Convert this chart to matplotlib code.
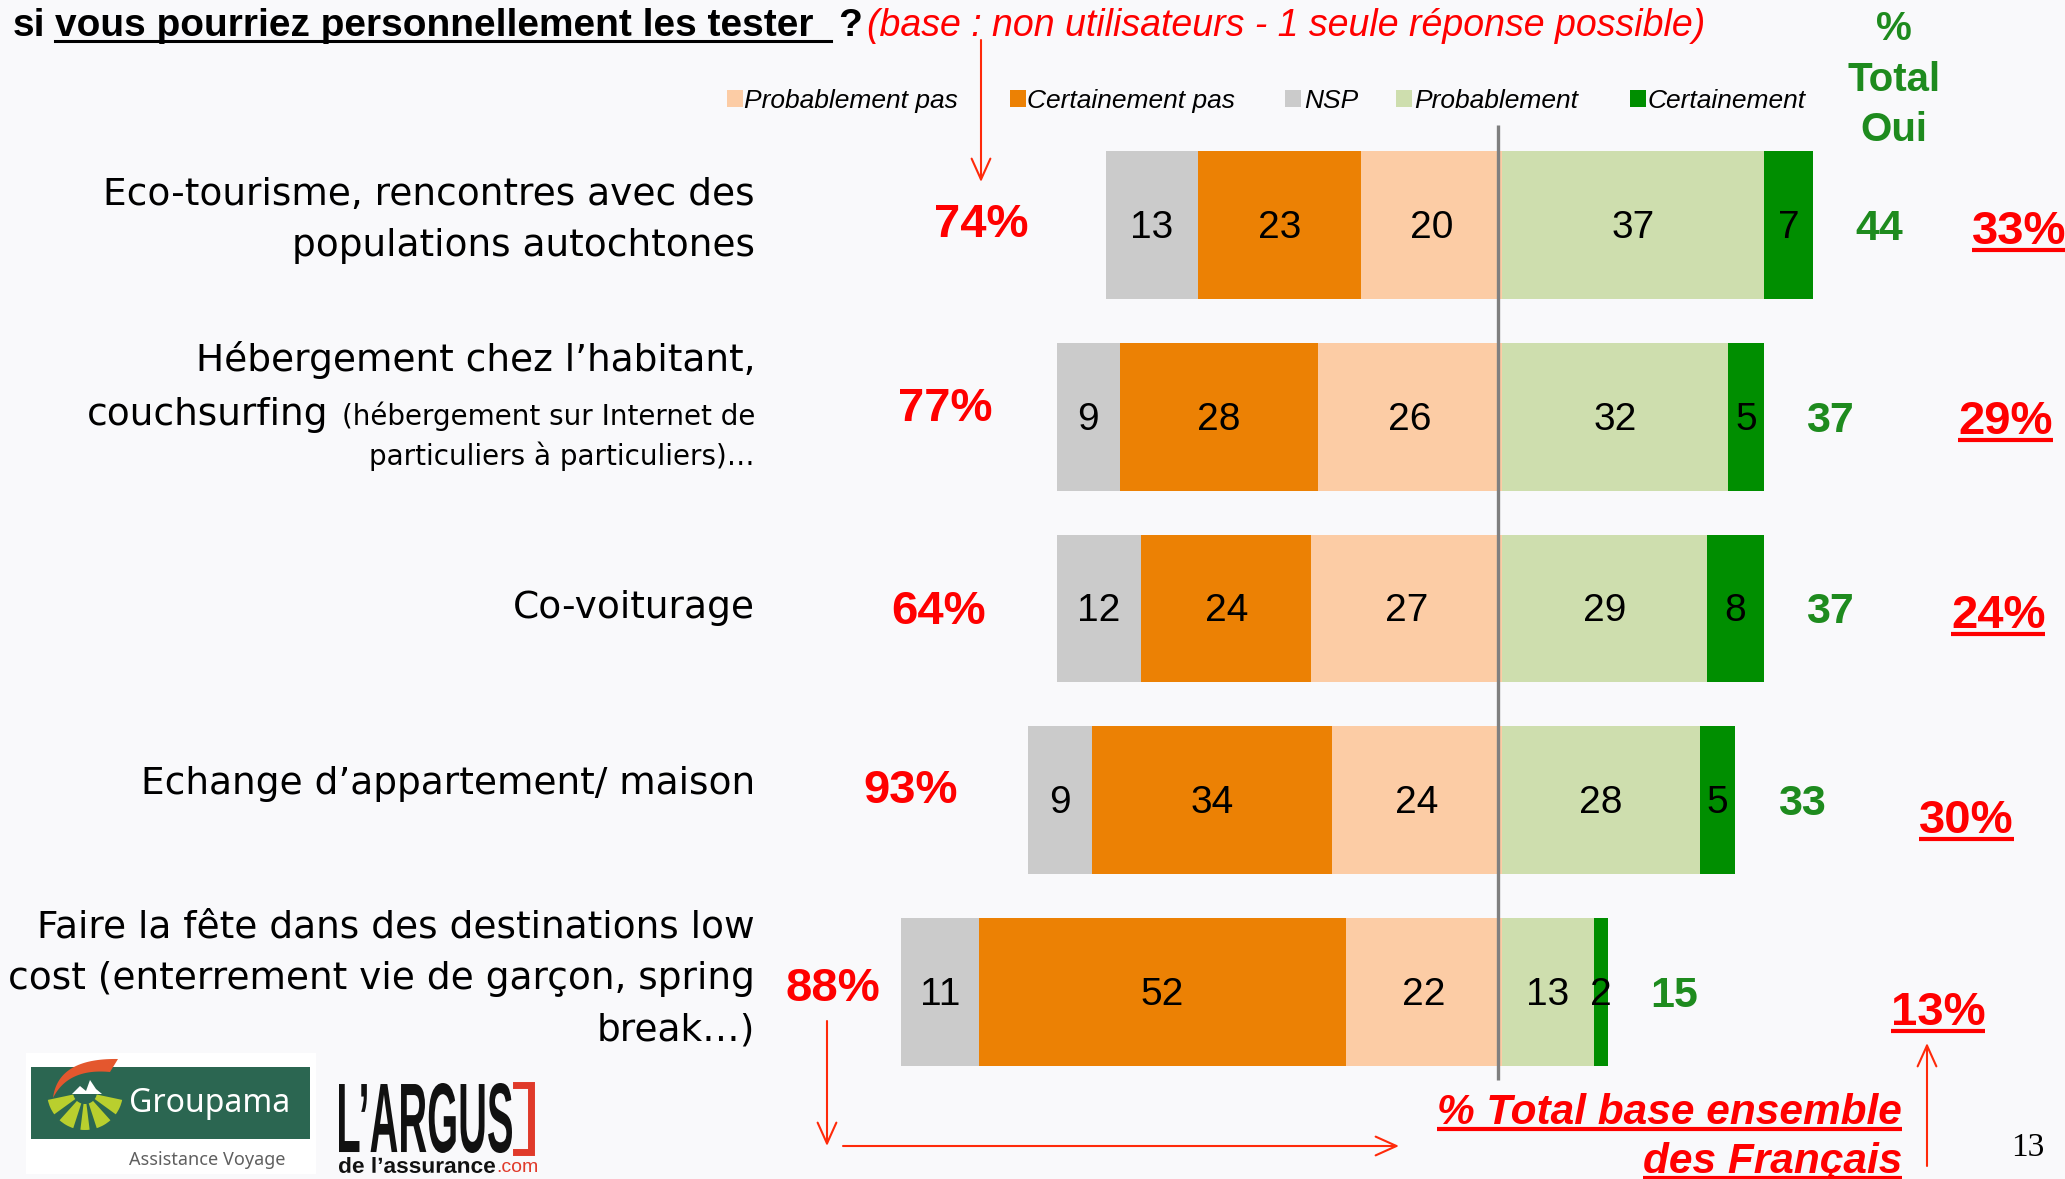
"""
Intention de tester les nouvelles formes de voyage (barres divergentes)
"""
import numpy as np
import matplotlib
matplotlib.use("Agg")  # pas d'affichage
import matplotlib.pyplot as plt
from matplotlib.patches import Rectangle, Wedge, PathPatch, Polygon
from matplotlib.textpath import TextPath
from matplotlib.font_manager import FontProperties
from matplotlib.transforms import Affine2D

# --- données ---
nsp = np.array([13, 9, 12, 9, 11])
certainement_pas = np.array([23, 28, 24, 34, 52])
probablement_pas = np.array([20, 26, 27, 24, 22])
probablement = np.array([37, 32, 29, 28, 13])
certainement = np.array([7, 5, 8, 5, 2])
total_oui = [44, 37, 37, 33, 15]
pct_non_utilisateurs = ["74%", "77%", "64%", "93%", "88%"]
pct_ensemble = ["33%", "29%", "24%", "30%", "13%"]
legend_labels = ["Probablement pas", "Certainement pas", "NSP", "Probablement", "Certainement"]

# --- mise en page (pixels de l'image finale) ---
W, H = 2065, 1179
X0, UNIT = 1502, 7.07      # position du zéro, pixels par point de %
Y0, ROW = 225, 191.75      # centre de la 1re barre, pas entre barres
BG = "#F9F9FB"
RED = "#FF0000"
ARROW_RED = "#FF2A0A"
GREEN_TXT = "#1E8B1E"
COLORS = {
    "nsp": "#CBCBCB",
    "cpas": "#EC8104",
    "ppas": "#FCCCA5",
    "p": "#CEDEAE",
    "c": "#008E00",
}
NARROW = ["Liberation Sans"]
LABEL_FONT = ["DejaVu Sans"]

fig = plt.figure(figsize=(W / 100, H / 100), dpi=100, facecolor=BG)

# axe des barres : x en %, y en rangs
ax = fig.add_axes([0, 0, 1, 1])
ax.set_xlim(-X0 / UNIT, (W - X0) / UNIT)
ax.set_ylim((H - Y0) / ROW, -Y0 / ROW)
ax.axis("off")

# axe de superposition en pixels (y vers le bas)
ov = fig.add_axes([0, 0, 1, 1], zorder=5)
ov.set_xlim(0, W)
ov.set_ylim(H, 0)
ov.axis("off")

renderer = fig.canvas.get_renderer()


def underline(t, color, lw=2.5, off=6):
    """Souligne un texte placé avec va='baseline'"""
    bb = t.get_window_extent(renderer)
    base = t.get_transform().transform(t.get_position())[1]
    yb = H - base + off
    ov.plot([bb.x0, bb.x1], [yb, yb], color=color, lw=lw, solid_capstyle="butt")


def fit_text(s, x0, y0, x1, y1, color, family=NARROW, weight="bold"):
    """Texte vectoriel étiré dans une boîte (logos)"""
    tp = TextPath((0, 0), s, size=100, prop=FontProperties(family=family, weight=weight))
    bb = tp.get_extents()
    tr = (Affine2D().translate(-bb.x0, -bb.y0)
          .scale((x1 - x0) / bb.width, -(y1 - y0) / bb.height)
          .translate(x0, y1))
    ov.add_patch(PathPatch(tr.transform_path(tp), color=color, lw=0))


# --- barres ---
y = np.arange(len(nsp))
h = 0.77
segments = [
    (nsp, -(nsp + certainement_pas + probablement_pas), COLORS["nsp"]),
    (certainement_pas, -(certainement_pas + probablement_pas), COLORS["cpas"]),
    (probablement_pas, -probablement_pas, COLORS["ppas"]),
    (probablement, np.zeros_like(probablement), COLORS["p"]),
    (certainement, probablement, COLORS["c"]),
]
for vals, lefts, col in segments:
    ax.barh(y, vals, left=lefts, height=h, color=col, edgecolor="none", zorder=2)
    for yi, v, l in zip(y, vals, lefts):
        ax.text(l + v / 2, yi + 0.015, str(v), ha="center", va="center",
                fontsize=28, family=NARROW, color="black", zorder=4)

# ligne du zéro
ax.vlines(-0.6, -0.52, 4.46, color="#7F7F7F", lw=2.4, zorder=3)

# totaux oui (vert)
for yi, tot, p, c in zip(y, total_oui, probablement, certainement):
    ax.text(p + c + 6, yi + 0.02, str(tot), ha="left", va="center",
            fontsize=31, family=NARROW, weight="bold", color=GREEN_TXT)

# % non utilisateurs (à gauche des barres)
gap_left = [11, 9, 10, 10, 3]
dy_left = [0.0, -0.04, 0.02, -0.05, -0.015]
left_ext = nsp + certainement_pas + probablement_pas
for yi, lab, ext, g, d in zip(y, pct_non_utilisateurs, left_ext, gap_left, dy_left):
    ax.text(-ext - g, yi + d, lab, ha="right", va="center",
            fontsize=34, family=NARROW, weight="bold", color=RED)

# % base ensemble (à droite, souligné)
x_right = [66.5, 64.5, 63.5, 59, 55]
dy_right = [0.10, 0.09, 0.10, 0.17, 0.17]
for yi, lab, xr, d in zip(y, pct_ensemble, x_right, dy_right):
    t = ax.text(xr, yi + d, lab, ha="left", va="baseline",
                fontsize=34, family=NARROW, weight="bold", color=RED)
    underline(t, RED, lw=3, off=6)

# --- libellés des items ---
LX = 755
big, small = 27, 20
lines = [
    ("Eco-tourisme, rencontres avec des", 195, big),
    ("populations autochtones", 246, big),
    ("Hébergement chez l’habitant,", 360, big),
    ("particuliers à particuliers)…", 456, small),
    ("Co-voiturage", 608, big),
    ("Echange d’appartement/ maison", 784, big),
    ("Faire la fête dans des destinations low", 927, big),
    ("cost (enterrement vie de garçon, spring", 979, big),
    ("break…)", 1030, big),
]
for txt, yy, fs in lines:
    ov.text(LX, yy, txt, ha="right", va="center", fontsize=fs, family=LABEL_FONT)
# ligne mixte : gros + petit texte
ts = ov.text(LX, 425, "(hébergement sur Internet de", ha="right", va="baseline",
             fontsize=small, family=LABEL_FONT)
w_small = ts.get_window_extent(renderer).width
ov.text(LX - w_small - 13, 425, "couchsurfing", ha="right", va="baseline",
        fontsize=big, family=LABEL_FONT)

# --- titre (dernière ligne visible) ---
TY = 36
ov.text(13, TY, "si", va="baseline", fontsize=28, weight="bold", family=NARROW)
ov.text(55, TY, "vous pourriez personnellement les tester", va="baseline",
        fontsize=28, weight="bold", family=NARROW)
ov.plot([55, 831], [TY + 5, TY + 5], color="black", lw=2.2)
ov.text(838, TY, "?", va="baseline", fontsize=28, weight="bold", family=NARROW)
ov.text(867, TY, "(base : non utilisateurs - 1 seule réponse possible)", va="baseline",
        fontsize=27, style="italic", color=RED, family=NARROW)

# --- légende ---
leg_cols = [COLORS["ppas"], COLORS["cpas"], COLORS["nsp"], COLORS["p"], COLORS["c"]]
leg_sq = [727, 1010, 1285, 1396, 1630]
leg_tx = [744, 1027, 1304, 1414, 1648]
for lab, col, xs, xt in zip(legend_labels, leg_cols, leg_sq, leg_tx):
    ov.add_patch(Rectangle((xs, 90), 16, 17, color=col, lw=0))
    ov.text(xt, 101, lab, ha="left", va="center", fontsize=19, style="italic", family=NARROW)

# en-tête colonne
for txt, yy in [("%", 29), ("Total", 80), ("Oui", 130)]:
    ov.text(1894, yy, txt, ha="center", va="center", fontsize=29,
            weight="bold", family=NARROW, color=GREEN_TXT)

# --- flèches ---
arrow_kw = dict(arrowstyle="->,head_length=1.0,head_width=0.45", color=ARROW_RED,
                lw=1.5, mutation_scale=15, shrinkA=0, shrinkB=0)
for start, end in [((981, 40), (981, 182)), ((827, 1021), (827, 1146)),
                   ((843, 1146), (1399, 1146)), ((1927, 1166), (1927, 1043))]:
    ov.annotate("", xy=end, xytext=start, arrowprops=arrow_kw)

for txt, yy in [("% Total base ensemble", 1124), ("des Français", 1173)]:
    t = ov.text(1902, yy, txt, ha="right", va="baseline", fontsize=30.5, weight="bold",
                style="italic", family=NARROW, color=RED)
    underline(t, RED, lw=3, off=5)

# numéro de page
ov.text(2028, 1148, "13", ha="center", va="center", fontsize=24, family=["Liberation Serif"])

# --- logos ---
ov.add_patch(Rectangle((26, 1053), 290, 121, color="white", lw=0))
ov.add_patch(Rectangle((31, 1067), 279, 72, color="#2B6651", lw=0))
# virgule orange (croissant)
tt = np.linspace(0, 1, 40)
outer_x = (1 - tt) ** 2 * 53 + 2 * (1 - tt) * tt * 58 + tt ** 2 * 118
outer_y = (1 - tt) ** 2 * 1098 + 2 * (1 - tt) * tt * 1058 + tt ** 2 * 1059
inner_x = (1 - tt) ** 2 * 53 + 2 * (1 - tt) * tt * 68 + tt ** 2 * 110
inner_y = (1 - tt) ** 2 * 1098 + 2 * (1 - tt) * tt * 1068 + tt ** 2 * 1072
ov.add_patch(Polygon(np.column_stack([np.r_[outer_x, inner_x[::-1]],
                                      np.r_[outer_y, inner_y[::-1]]]),
                     closed=True, color="#E4572E", lw=0))
for a1, a2 in [(12, 36), (48, 72), (83, 97), (108, 132), (144, 168)]:
    ov.add_patch(Wedge((85, 1092), 38, a1, a2, width=26, color="#B9CF2E", lw=0))
ov.add_patch(Polygon([(72, 1094), (80, 1086), (86, 1091), (90, 1080), (96, 1089), (102, 1094)],
                     closed=True, color="white", lw=0))
ov.text(210, 1103, "Groupama", ha="center", va="center", fontsize=23,
        color="white", family=["Noto Sans"])
ov.text(207, 1160, "Assistance Voyage", ha="center", va="center", fontsize=13,
        color="#5F5F5F", weight="bold", family=["Noto Sans"])

fit_text("L’ARGUS", 339, 1083, 512, 1153, "#111111")
ov.plot([516, 531, 531, 516], [1085, 1085, 1152, 1152], color="#E03A2A", lw=5,
        solid_joinstyle="miter")
fit_text("de l’assurance", 339, 1157, 495, 1173, "#111111")
ov.text(496, 1172, ".com", ha="left", va="baseline", fontsize=14, color="#E03A2A",
        family=NARROW)

plt.savefig("out.png", dpi=100, facecolor=BG)
plt.close()
